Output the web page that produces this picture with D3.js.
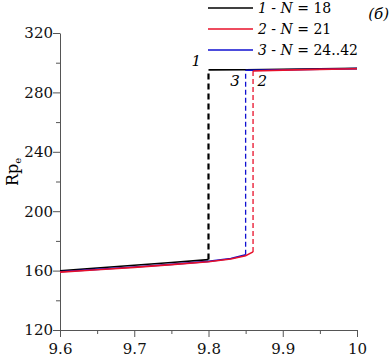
<!DOCTYPE html>
<html>
<head>
    <meta charset="utf-8" />
    <script src="https://d3js.org/d3.v7.min.js"></script>
    <style>
        body { margin: 0; background: #fff; }
    </style>
</head>
<body>
    <svg width="390" height="361"></svg>
    <script>
        // series data: lower branch, upper branch, jump position
        const names = ["1", "2", "3"];
        const nLabels = ["18", "21", "24..42"];
        const colors = ["#000000", "#e8102a", "#1010d0"];

        const lowerX = [
            [9.6, 9.65, 9.7, 9.75, 9.8],
            [9.6, 9.65, 9.7, 9.75, 9.8, 9.83, 9.85, 9.86],
            [9.6, 9.65, 9.7, 9.75, 9.8, 9.83, 9.85]
        ];
        const lowerY = [
            [159.8, 161.8, 163.6, 165.5, 167.4],
            [159.0, 160.6, 162.2, 164.0, 166.0, 167.8, 170.0, 172.6],
            [159.2, 160.8, 162.4, 164.2, 166.2, 168.2, 170.6]
        ];
        const upperX = [
            [9.8, 9.85, 9.9, 9.95, 10],
            [9.86, 9.9, 9.95, 10],
            [9.85, 9.9, 9.95, 10]
        ];
        const upperY = [
            [295.2, 295.3, 295.6, 295.9, 296.2],
            [294.4, 295.0, 295.5, 295.9],
            [294.9, 295.2, 295.6, 296.0]
        ];

        const xTicks = [9.6, 9.7, 9.8, 9.9, 10];
        const xMinor = [9.65, 9.75, 9.85, 9.95];
        const yTicks = [120, 160, 200, 240, 280, 320];
        const yMinor = [140, 180, 220, 260, 300];

        const serif = "DejaVu Serif";

        const svg = d3.select("svg").attr("font-family", serif);
        const margin = { top: 33, bottom: 31, left: 60, right: 33 };
        const width = +svg.attr("width");
        const height = +svg.attr("height");

        const x = d3.scaleLinear().domain([9.6, 10]).range([margin.left, width - margin.right]);
        const y = d3.scaleLinear().domain([120, 320]).range([height - margin.bottom, margin.top]);

        // axes
        const xAxis = svg.append("g")
            .attr("transform", "translate(0," + y(120) + ")")
            .call(d3.axisBottom(x).tickValues(xTicks).tickSize(7).tickSizeOuter(0)
                .tickFormat(d => d === 10 ? "10" : d3.format(".1f")(d)));
        xAxis.selectAll("text").attr("dy", "0.95em");
        svg.append("g")
            .attr("transform", "translate(0," + y(120) + ")")
            .call(d3.axisBottom(x).tickValues(xMinor).tickSize(4).tickFormat(""))
            .select(".domain").remove();

        const yAxis = svg.append("g")
            .attr("transform", "translate(" + x(9.6) + ",0)")
            .call(d3.axisLeft(y).tickValues(yTicks).tickSize(7).tickSizeOuter(0));
        yAxis.selectAll("text").attr("x", -7);
        svg.append("g")
            .attr("transform", "translate(" + x(9.6) + ",0)")
            .call(d3.axisLeft(y).tickValues(yMinor).tickSize(4).tickFormat(""))
            .select(".domain").remove();

        svg.selectAll("g").attr("font-family", serif).attr("font-size", 15);
        svg.selectAll(".tick text").attr("fill", "#111");
        svg.selectAll(".domain, .tick line").attr("stroke", "#555");

        // y label
        const yl = svg.append("text")
            .attr("transform", "translate(18," + 172 + ") rotate(-90)")
            .attr("text-anchor", "middle")
            .attr("font-size", 16);
        yl.append("tspan").text("Rp");
        yl.append("tspan").attr("dy", 3).attr("font-size", 10).text("e");

        const line = d3.line().x(d => x(d[0])).y(d => y(d[1]));

        const order = [0, 2, 1];
        // dashed jumps
        order.forEach(i => {
            const xs = lowerX[i][lowerX[i].length - 1];
            svg.append("path")
                .attr("d", line([[xs, lowerY[i][lowerY[i].length - 1]], [xs, upperY[i][0]]]))
                .attr("fill", "none")
                .attr("stroke", colors[i])
                .attr("stroke-width", i === 0 ? 2.2 : 1.3)
                .attr("stroke-dasharray", i === 0 ? "6,4" : "5,3");
        });

        // solid branches
        order.forEach(i => {
            const lo = lowerX[i].map((v, k) => [v, lowerY[i][k]]);
            const up = upperX[i].map((v, k) => [v, upperY[i][k]]);
            [lo, up].forEach(pts => {
                svg.append("path")
                    .attr("d", line(pts))
                    .attr("fill", "none")
                    .attr("stroke", colors[i])
                    .attr("stroke-width", 1.6);
            });
        });

        // curve labels
        const curveLabels = [
            { t: "1", x: 9.79, y: 298 },
            { t: "3", x: 9.842, y: 284 },
            { t: "2", x: 9.866, y: 284 }
        ];
        svg.selectAll(".clab").data(curveLabels).enter().append("text")
            .attr("class", "clab")
            .attr("x", d => x(d.x))
            .attr("y", d => y(d.y))
            .attr("text-anchor", d => d.t === "2" ? "start" : "end")
            .attr("font-size", 15)
            .attr("font-style", "italic")
            .text(d => d.t);

        // legend
        const legend = svg.append("g").attr("transform", "translate(208,0)");
        const item = legend.selectAll(".leg").data(names).enter().append("g")
            .attr("transform", (d, i) => "translate(0," + (8 + i * 21) + ")");
        item.append("line")
            .attr("x1", 0).attr("x2", 45)
            .attr("stroke", (d, i) => colors[i])
            .attr("stroke-width", 1.6);
        const lt = item.append("text").attr("x", 50).attr("dy", "0.33em").attr("font-size", 14);
        lt.append("tspan").attr("font-style", "italic").text(d => d);
        lt.append("tspan").text(" - ");
        lt.append("tspan").attr("font-style", "italic").text("N");
        lt.append("tspan").text((d, i) => " = " + nLabels[i]);

        svg.append("text")
            .attr("x", 389).attr("y", 19)
            .attr("text-anchor", "end")
            .attr("font-size", 15)
            .attr("font-style", "italic")
            .text("(б)");
    </script>
</body>
</html>
